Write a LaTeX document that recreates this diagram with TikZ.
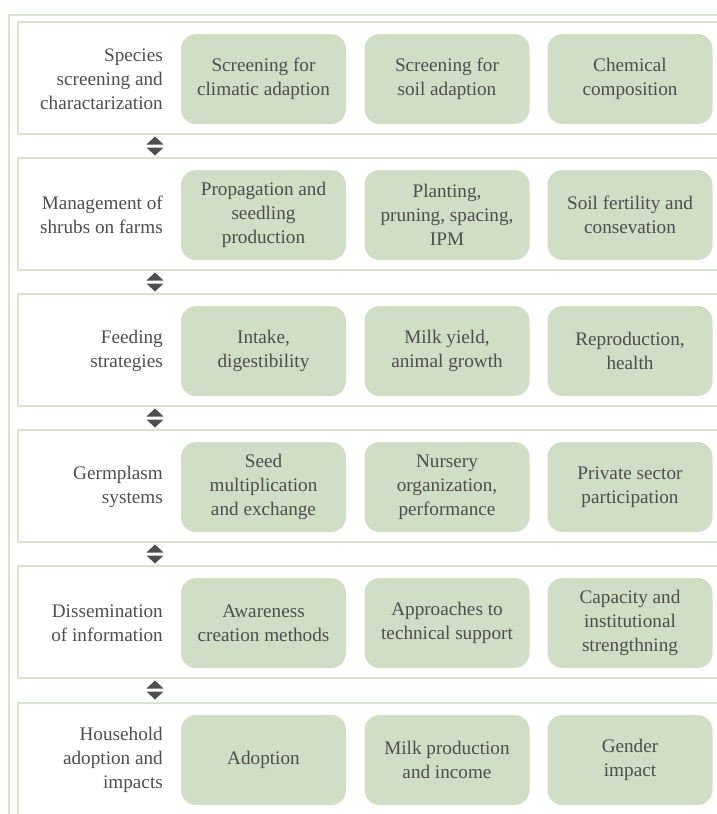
\documentclass[tikz,border=0pt]{standalone}
\usepackage{fontspec}
\setmainfont{Liberation Serif}
\usepackage{tikz}
\usetikzlibrary{positioning}

\definecolor{boxgreen}{HTML}{CFDEC4}
\definecolor{linegreen}{HTML}{D6E4CE}
\definecolor{textgray}{HTML}{4E4E4E}

\begin{document}
\begin{tikzpicture}[x=1pt,y=-1pt,
	% styles for the boxes and the row labels
	topic/.style={rectangle, rounded corners=15pt, fill=boxgreen, minimum width=165pt, minimum height=90pt,
		align=center, text=textgray, font=\fontsize{19.2}{24}\selectfont, inner sep=1pt},
	rowlabel/.style={anchor=east, align=right, text=textgray, font=\fontsize{19.2}{24}\selectfont, inner sep=0pt},
	frame/.style={draw=linegreen, line width=1.2pt},
	updown/.style={fill=textgray}
	]
	\useasboundingbox (0,0) rectangle (717,814);
	
	% outer frame
	\draw[frame] (9,814) -- (9,15) -- (717,15);
	
	% row frames
	\foreach \t in {22,158,294,430,566,703}{
		\draw[frame] (720,\t) -- (18,\t) -- (18,\t+112) -- (720,\t+112);
	}
	
	% --- Row 1 ---
	\node[rowlabel] (L1) at (163,79) {Species\\screening and\\charactarization};
	\node[topic] (A1) at (263.5,79) {Screening for\\climatic adaption};
	\node[topic] (B1) at (447,79) {Screening for\\soil adaption};
	\node[topic] (C1) at (630,79) {Chemical\\composition};
	
	% --- Row 2 ---
	\node[rowlabel] (L2) at (163,215) {Management of\\shrubs on farms};
	\node[topic] (A2) at (263.5,215) {Propagation and\\seedling\\production};
	\node[topic] (B2) at (447,215) {Planting,\\pruning, spacing,\\IPM};
	\node[topic] (C2) at (630,215) {Soil fertility and\\consevation};
	
	% --- Row 3 ---
	\node[rowlabel] (L3) at (163,351) {Feeding\\strategies};
	\node[topic] (A3) at (263.5,351) {Intake,\\digestibility};
	\node[topic] (B3) at (447,351) {Milk yield,\\animal growth};
	\node[topic] (C3) at (630,351) {Reproduction,\\health};
	
	% --- Row 4 ---
	\node[rowlabel] (L4) at (163,487) {Germplasm\\systems};
	\node[topic] (A4) at (263.5,487) {Seed\\multiplication\\and exchange};
	\node[topic] (B4) at (447,487) {Nursery\\organization,\\performance};
	\node[topic] (C4) at (630,487) {Private sector\\participation};
	
	% --- Row 5 ---
	\node[rowlabel] (L5) at (163,623) {Dissemination\\of information};
	\node[topic] (A5) at (263.5,623) {Awareness\\creation methods};
	\node[topic] (B5) at (447,623) {Approaches to\\technical support};
	\node[topic] (C5) at (630,623) {Capacity and\\institutional\\strengthning};
	
	% --- Row 6 ---
	\node[rowlabel] (L6) at (163,760) {Household\\adoption and\\impacts};
	\node[topic] (A6) at (263.5,760) {Adoption};
	\node[topic] (B6) at (447,760) {Milk production\\and income};
	\node[topic] (C6) at (630,760) {Gender\\impact};
	
	% --- up/down marks between the rows ---
	\foreach \m in {146,282,418,554,690}{
		\fill[updown] (155,\m-9.5) -- (163.5,\m-1.5) -- (146.5,\m-1.5) -- cycle;
		\fill[updown] (146.5,\m+1.5) -- (163.5,\m+1.5) -- (155,\m+9.5) -- cycle;
	}
\end{tikzpicture}
\end{document}
